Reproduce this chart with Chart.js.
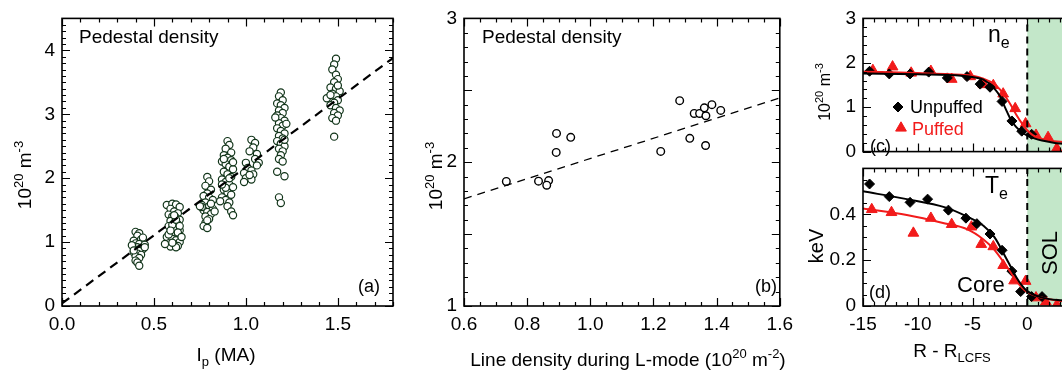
<!DOCTYPE html>
<html>
<head>
<meta charset="utf-8">
<script src="https://cdn.jsdelivr.net/npm/chart.js@4.4.1/dist/chart.umd.min.js"></script>
<style>
  html, body { margin: 0; padding: 0; background: #fff; overflow: hidden; width: 1062px; height: 374px; }
  canvas { position: absolute; }
  #cA { left: 0; top: 0; }
  #cB { left: 400px; top: 0; }
  #cC { left: 780px; top: 0; }
  #cD { left: 780px; top: 150px; }
</style>
</head>
<body>
<canvas id="cA" width="400" height="374"></canvas>
<canvas id="cB" width="400" height="374"></canvas>
<canvas id="cC" width="310" height="170"></canvas>
<canvas id="cD" width="310" height="224"></canvas>
<script>
// --- (a) pedestal density vs Ip, one list of [Ip, n] per current group ---
const ip040 = [[0.40,1.16],[0.42,1.14],[0.41,1.10],[0.39,1.02],[0.43,1.04],[0.44,1.00],[0.40,0.98],[0.42,0.97],[0.45,0.96],
  [0.39,0.93],[0.41,0.92],[0.43,0.91],[0.40,0.88],[0.44,0.89],[0.42,0.86],[0.39,0.84],[0.41,0.82],[0.43,0.80],[0.40,0.78],
  [0.42,0.75],[0.40,0.71],[0.41,0.68],[0.42,0.63],[0.44,1.07],[0.38,0.95],[0.45,0.92],[0.39,0.87]];
const ip060 = [[0.57,1.58],[0.60,1.60],[0.62,1.59],[0.64,1.55],[0.59,1.52],[0.61,1.48],[0.63,1.45],[0.58,1.43],[0.60,1.40],
  [0.62,1.38],[0.64,1.35],[0.59,1.33],[0.61,1.30],[0.63,1.28],[0.58,1.25],[0.60,1.22],[0.62,1.20],[0.64,1.18],[0.59,1.15],
  [0.61,1.12],[0.63,1.10],[0.57,1.08],[0.60,1.05],[0.62,1.03],[0.64,1.00],[0.58,0.98],[0.61,0.96],[0.63,0.94],[0.59,0.93],
  [0.62,0.92],[0.56,0.97],[0.60,1.27],[0.62,1.35],[0.58,1.12],[0.64,1.25],[0.61,1.42],[0.59,1.18],[0.63,1.15],[0.60,0.99],[0.65,1.08]];
const ip078 = [[0.79,2.02],[0.80,1.95],[0.78,1.88],[0.81,1.82],[0.79,1.76],[0.77,1.72],[0.80,1.70],[0.82,1.66],[0.78,1.62],
  [0.76,1.58],[0.80,1.56],[0.82,1.52],[0.77,1.50],[0.79,1.47],[0.81,1.44],[0.76,1.55],[0.78,1.40],[0.80,1.36],[0.78,1.30],
  [0.77,1.25],[0.79,1.22],[0.81,1.60],[0.75,1.56],[0.83,1.48],[0.79,1.34]];
const ip090 = [[0.90,2.58],[0.91,2.52],[0.89,2.46],[0.92,2.40],[0.88,2.36],[0.90,2.32],[0.92,2.28],[0.87,2.26],[0.89,2.22],
  [0.91,2.18],[0.93,2.14],[0.88,2.10],[0.90,2.06],[0.92,2.02],[0.87,1.98],[0.89,1.94],[0.91,1.90],[0.93,1.86],[0.88,1.82],
  [0.90,1.78],[0.92,1.74],[0.87,1.70],[0.89,1.66],[0.91,1.62],[0.86,1.64],[0.90,1.56],[0.92,1.48],[0.93,1.42],[0.88,2.30],
  [0.91,2.00],[0.89,1.85],[0.93,2.25],[0.87,1.90]];
const ip102 = [[1.03,2.60],[1.05,2.55],[1.04,2.48],[1.02,2.42],[1.06,2.38],[1.05,2.30],[1.07,2.24],[1.00,2.24],[1.01,2.16],
  [1.03,2.12],[1.04,2.06],[0.99,2.08],[1.00,2.00],[0.99,1.94],[1.03,1.98],[1.06,2.20],[1.02,2.05]];
const ip119 = [[1.19,3.34],[1.18,3.28],[1.20,3.22],[1.17,3.17],[1.19,3.14],[1.21,3.10],[1.18,3.06],[1.20,3.02],[1.17,2.98],
  [1.19,2.94],[1.21,2.90],[1.18,2.86],[1.20,2.82],[1.17,2.78],[1.19,2.74],[1.21,2.70],[1.18,2.66],[1.20,2.62],[1.17,2.58],
  [1.19,2.54],[1.21,2.50],[1.18,2.46],[1.20,2.42],[1.19,2.36],[1.18,2.30],[1.20,2.26],[1.17,2.10],[1.21,2.03],[1.18,1.70],
  [1.19,1.61],[1.22,2.85],[1.16,2.95],[1.21,2.60]];
const ip148 = [[1.49,3.87],[1.48,3.78],[1.47,3.70],[1.49,3.62],[1.50,3.55],[1.48,3.50],[1.46,3.42],[1.49,3.40],[1.51,3.36],
  [1.47,3.32],[1.49,3.28],[1.44,3.25],[1.50,3.22],[1.48,3.18],[1.46,3.14],[1.49,3.10],[1.51,3.06],[1.48,3.02],[1.50,2.98],
  [1.47,2.94],[1.49,2.90],[1.48,2.65],[1.46,3.30],[1.50,3.45]];
const fitAx = [0, 1.8];
const fitAy = [0.04, 3.88];

// --- (b) pedestal density vs L-mode line density ---
const lineDensB = [0.734, 0.836, 0.868, 0.862, 0.893, 0.892, 0.938, 1.223, 1.283, 1.315, 1.329, 1.346, 1.361, 1.366, 1.365, 1.385, 1.413];
const pedDensB  = [1.866, 1.868, 1.872, 1.840, 2.200, 2.068, 2.173, 2.075, 2.428, 2.166, 2.339, 2.339, 2.378, 2.323, 2.116, 2.400, 2.360];
const fitBx = [0.6, 1.6];
const fitBy = [1.745, 2.447];

// --- (c) ne profiles ---
const rNeUnp = [-14.4, -12.6, -10.7, -9.0, -7.3, -5.5, -4.3, -3.4, -2.3, -1.4, -0.5, 0.4];
const neUnp  = [1.81, 1.75, 1.75, 1.79, 1.66, 1.69, 1.52, 1.45, 1.13, 0.69, 0.46, 0.39];
const rNePuf = [-14.1, -12.3, -10.6, -8.8, -6.9, -5.2, -4.0, -3.1, -2.2, -1.1, -0.15, 0.8, 1.9, 2.7];
const nePuf  = [1.83, 1.91, 1.77, 1.81, 1.63, 1.69, 1.51, 1.49, 1.30, 0.97, 0.63, 0.37, 0.32, 0.07];
const rNeFit = [-15, -10, -6, -5, -4, -3, -2.5, -2, -1.5, -1, -0.5, 0, 0.5, 1, 2, 3, 4, 5];
const neFitUnp = [1.76, 1.74, 1.71, 1.68, 1.62, 1.42, 1.25, 0.98, 0.72, 0.55, 0.44, 0.36, 0.31, 0.27, 0.22, 0.18, 0.17, 0.16];
const neFitPuf = [1.80, 1.77, 1.73, 1.71, 1.64, 1.52, 1.40, 1.24, 1.05, 0.83, 0.64, 0.48, 0.37, 0.31, 0.25, 0.22, 0.21, 0.20];

// --- (d) Te profiles ---
const rTeUnp = [-14.4, -12.6, -10.7, -9.1, -7.2, -5.6, -4.6, -3.4, -2.3, -1.4, -0.6, 0.4, 1.35];
const teUnp  = [0.532, 0.477, 0.452, 0.466, 0.418, 0.383, 0.359, 0.314, 0.243, 0.152, 0.063, 0.041, 0.041];
const rTePuf = [-14.2, -12.4, -10.4, -8.8, -6.9, -5.1, -4.2, -3.1, -2.2, -1.2, -0.15, 0.8, 1.7, 2.7];
const tePuf  = [0.421, 0.408, 0.318, 0.383, 0.356, 0.345, 0.269, 0.259, 0.177, 0.110, 0.108, 0.036, 0.018, 0.004];
const rTeFit = [-15, -11, -7.5, -5.5, -4, -3, -2, -1.5, -1, -0.5, 0, 1, 2, 3, 4, 5];
const teFitUnp = [0.500, 0.466, 0.430, 0.390, 0.350, 0.300, 0.215, 0.170, 0.125, 0.090, 0.065, 0.042, 0.030, 0.025, 0.022, 0.020];
const teFitPuf = [0.425, 0.397, 0.360, 0.335, 0.290, 0.245, 0.180, 0.145, 0.110, 0.080, 0.060, 0.040, 0.030, 0.022, 0.020, 0.018];

const FONT = '"Liberation Sans", Arial, Helvetica, sans-serif';
const RED = '#f21b1b';
const SOL_GREEN = '#c3e7c9';
Chart.defaults.font.family = FONT;
Chart.defaults.color = '#000';

const xy = (xs, ys) => xs.map((x, i) => ({ x, y: ys[i] }));

// rich text: parts are [text, 'sup'|'sub'|undefined]
function drawRich(ctx, parts, x, y, size, opt = {}) {
  const small = Math.round(size * 0.68);
  const font = s => `${s}px ${FONT}`;
  let w = 0;
  parts.forEach(([t, k]) => { ctx.font = font(k ? small : size); w += ctx.measureText(t).width; });
  ctx.save();
  ctx.translate(x, y);
  if (opt.rotate) ctx.rotate(opt.rotate);
  ctx.fillStyle = opt.color || '#000';
  ctx.textBaseline = 'alphabetic';
  let cx = opt.align === 'left' ? 0 : -w / 2;
  parts.forEach(([t, k]) => {
    ctx.font = font(k ? small : size);
    const dy = k === 'sup' ? -size * 0.42 : k === 'sub' ? size * 0.28 : 0;
    ctx.fillText(t, cx, dy);
    cx += ctx.measureText(t).width;
  });
  ctx.restore();
}

// IDL-style frame with inward ticks on all four sides
const frame = {
  id: 'frame',
  afterDatasetsDraw(chart, args, o) {
    const { ctx, chartArea: a } = chart;
    ctx.save();
    ctx.strokeStyle = '#000';
    ctx.lineWidth = 1.2;
    ctx.beginPath();
    const mark = (id, v, len) => {
      const p = Math.round(chart.scales[id].getPixelForValue(v)) + 0.5;
      if (id === 'x') {
        ctx.moveTo(p, a.bottom); ctx.lineTo(p, a.bottom - len);
        ctx.moveTo(p, a.top); ctx.lineTo(p, a.top + len);
      } else {
        ctx.moveTo(a.left, p); ctx.lineTo(a.left + len, p);
        ctx.moveTo(a.right, p); ctx.lineTo(a.right - len, p);
      }
    };
    ['x', 'y'].forEach(id => {
      const s = chart.scales[id], t = o[id];
      const n = Math.round((s.max - s.min) / t.minor);
      for (let i = 0; i <= n; i++) mark(id, s.min + i * t.minor, 4);
      t.major.forEach(v => mark(id, v, 8));
    });
    ctx.stroke();
    ctx.lineWidth = 1.6;
    ctx.strokeRect(a.left, a.top, a.width, a.height);
    ctx.restore();
  }
};

// shaded scrape-off layer (R > R_LCFS)
const solShade = {
  id: 'solShade',
  beforeDatasetsDraw(chart) {
    const { ctx, chartArea: a, scales: { x } } = chart;
    const x0 = x.getPixelForValue(0);
    ctx.save();
    ctx.fillStyle = SOL_GREEN;
    ctx.fillRect(x0, a.top, a.right - x0, a.height);
    ctx.restore();
  }
};

const notes = fn => ({ id: 'notes', afterDraw(chart) { fn(chart.ctx); } });

function axis(min, max, step, fmt, width, height, extra = {}) {
  return Object.assign({
    type: 'linear', min, max,
    grid: { display: false, drawTicks: false },
    border: { display: false },
    ticks: { stepSize: step, includeBounds: false, color: '#000', font: { size: 19 }, padding: 7, callback: fmt },
    afterFit: s => { if (width !== null) s.width = width; if (height !== null) s.height = height; }
  }, extra);
}

const base = {
  responsive: false,
  animation: false,
  events: [],
  plugins: { legend: { display: false }, tooltip: { enabled: false } }
};

const circle = color => ({
  pointStyle: 'circle', pointRadius: 3.6, pointBackgroundColor: '#fff',
  pointBorderColor: color, pointBorderWidth: 1.2, showLine: false
});

// ---------- (a) ----------
const clustersA = [ip040, ip060, ip078, ip090, ip102, ip119, ip148];
new Chart(document.getElementById('cA'), {
  type: 'scatter',
  data: {
    datasets: [
      { data: xy(fitAx, fitAy), showLine: true, borderColor: '#000', borderWidth: 2.2, borderDash: [9, 6], pointRadius: 0 },
      Object.assign({ data: clustersA.flat().map(([x, y]) => ({ x, y })) }, circle('#12351a'))
    ]
  },
  options: Object.assign({}, base, {
    layout: { padding: { left: 0, top: 13, right: 7, bottom: 0 } },
    scales: {
      x: axis(0, 1.8, 0.5, v => v.toFixed(1), null, 68),
      y: axis(0, 4.5, 1, v => String(v), 62, null)
    },
    plugins: Object.assign({}, base.plugins, {
      frame: { x: { major: [0, 0.5, 1, 1.5], minor: 0.1 }, y: { major: [0, 1, 2, 3, 4], minor: 0.1 } }
    })
  }),
  plugins: [frame, notes(ctx => {
    drawRich(ctx, [['Pedestal density']], 79, 43, 19, { align: 'left' });
    drawRich(ctx, [['(a)']], 369, 292, 18);
    drawRich(ctx, [['I'], ['p', 'sub'], [' (MA)']], 226, 361, 19);
    drawRich(ctx, [['10'], ['20', 'sup'], [' m'], ['-3', 'sup']], 31, 175, 19, { rotate: -Math.PI / 2 });
  })]
});

// ---------- (b) ----------
new Chart(document.getElementById('cB'), {
  type: 'scatter',
  data: {
    datasets: [
      { data: xy(fitBx, fitBy), showLine: true, borderColor: '#000', borderWidth: 1.3, borderDash: [8, 6], pointRadius: 0 },
      Object.assign({ data: xy(lineDensB, pedDensB) }, circle('#000'), { pointRadius: 3.8, pointBorderWidth: 1.4 })
    ]
  },
  options: Object.assign({}, base, {
    layout: { padding: { left: 0, top: 13, right: 13, bottom: 0 } },
    scales: {
      x: axis(0.6, 1.6, 0.2, v => v.toFixed(1), null, 68),
      y: axis(1, 3, 1, v => String(v), 64, null)
    },
    plugins: Object.assign({}, base.plugins, {
      frame: { x: { major: [0.6, 0.8, 1.0, 1.2, 1.4, 1.6], minor: 0.05 }, y: { major: [1, 1.5, 2, 2.5, 3], minor: 0.1 } }
    })
  }),
  plugins: [frame, notes(ctx => {
    drawRich(ctx, [['Pedestal density']], 82, 43, 19, { align: 'left' });
    drawRich(ctx, [['(b)']], 366, 292, 18);
    drawRich(ctx, [['Line density during L-mode (10'], ['20', 'sup'], [' m'], ['-2', 'sup'], [')']], 228, 366, 19);
    drawRich(ctx, [['10'], ['20', 'sup'], [' m'], ['-3', 'sup']], 42, 176, 19, { rotate: -Math.PI / 2 });
  })]
});

// ---------- (c) ----------
const profileSets = (rFit, fitU, fitP, rU, u, rP, p, top) => [
  { data: [{ x: 0, y: 0 }, { x: 0, y: top }], showLine: true, borderColor: '#000', borderWidth: 2, borderDash: [7, 5], pointRadius: 0 },
  { data: xy(rFit, fitU), showLine: true, borderColor: '#000', borderWidth: 2, pointRadius: 0, cubicInterpolationMode: 'monotone' },
  { data: xy(rFit, fitP), showLine: true, borderColor: RED, borderWidth: 2, pointRadius: 0, cubicInterpolationMode: 'monotone' },
  { data: xy(rU, u), pointStyle: 'rectRot', pointRadius: 5, pointBackgroundColor: '#000', pointBorderColor: '#000', pointBorderWidth: 1 },
  { data: xy(rP, p), pointStyle: 'triangle', pointRadius: 6.2, pointBackgroundColor: RED, pointBorderColor: RED, pointBorderWidth: 1 }
];

new Chart(document.getElementById('cC'), {
  type: 'scatter',
  data: { datasets: profileSets(rNeFit, neFitUnp, neFitPuf, rNeUnp, neUnp, rNePuf, nePuf, 3) },
  options: Object.assign({}, base, {
    layout: { padding: { left: 0, top: 13, right: 8, bottom: 9 } },
    scales: {
      x: axis(-15, 5, 5, v => String(v), null, 0, { ticks: { display: false, stepSize: 5 } }),
      y: axis(0, 3, 1, v => String(v), 83, null)
    },
    plugins: Object.assign({}, base.plugins, {
      frame: { x: { major: [-15, -10, -5, 0, 5], minor: 1 }, y: { major: [0, 1, 2, 3], minor: 0.2 } }
    })
  }),
  plugins: [solShade, frame, notes(ctx => {
    drawRich(ctx, [['10'], ['20', 'sup'], [' m'], ['-3', 'sup']], 50, 92, 16, { rotate: -Math.PI / 2 });
    drawRich(ctx, [['n'], ['e', 'sub']], 208, 42, 23, { align: 'left' });
    ctx.save();
    ctx.fillStyle = '#000'; ctx.strokeStyle = '#000';
    Chart.helpers.drawPoint(ctx, { pointStyle: 'rectRot', radius: 5, borderWidth: 1 }, 118, 107);
    ctx.fillStyle = RED; ctx.strokeStyle = RED;
    Chart.helpers.drawPoint(ctx, { pointStyle: 'triangle', radius: 6.2, borderWidth: 1 }, 121, 128);
    ctx.restore();
    drawRich(ctx, [['Unpuffed']], 130, 113, 18, { align: 'left' });
    drawRich(ctx, [['Puffed']], 132, 135, 18, { align: 'left', color: RED });
    drawRich(ctx, [['(c)']], 90, 152, 18, { align: 'left' });
  })]
});

// ---------- (d) ----------
new Chart(document.getElementById('cD'), {
  type: 'scatter',
  data: { datasets: profileSets(rTeFit, teFitUnp, teFitPuf, rTeUnp, teUnp, rTePuf, tePuf, 0.6) },
  options: Object.assign({}, base, {
    layout: { padding: { left: 0, top: 11, right: 8, bottom: 0 } },
    scales: {
      x: axis(-15, 5, 5, v => (v > 4 ? '' : String(v)), null, 68),
      y: axis(0, 0.6, 0.2, v => (v === 0 ? '0' : v > 0.55 ? '' : v.toFixed(1)), 83, null)
    },
    plugins: Object.assign({}, base.plugins, {
      frame: { x: { major: [-15, -10, -5, 0, 5], minor: 1 }, y: { major: [0, 0.2, 0.4, 0.6], minor: 0.05 } }
    })
  }),
  plugins: [solShade, frame, notes(ctx => {
    drawRich(ctx, [['T'], ['e', 'sub']], 205, 43, 23, { align: 'left' });
    drawRich(ctx, [['Core']], 177, 142, 22, { align: 'left' });
    drawRich(ctx, [['(d)']], 89, 148, 18, { align: 'left' });
    drawRich(ctx, [['SOL']], 277, 103, 22, { rotate: -Math.PI / 2 });
    drawRich(ctx, [['keV']], 43, 96, 20, { rotate: -Math.PI / 2 });
    drawRich(ctx, [['R - R'], ['LCFS', 'sub']], 172, 207, 19);
  })]
});
</script>
</body>
</html>
